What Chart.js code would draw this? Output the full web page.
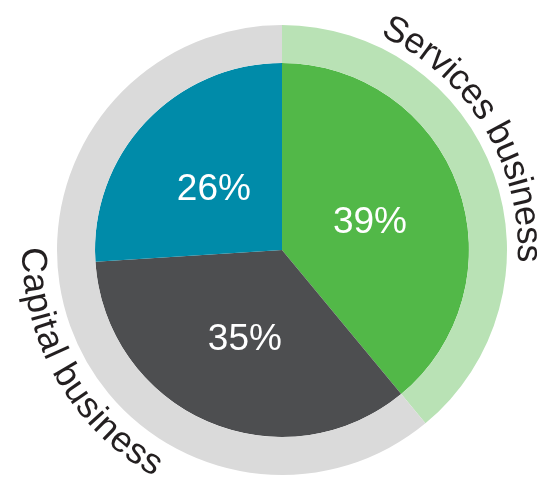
<!DOCTYPE html>
<html lang="en">
<head>
<meta charset="UTF-8" />
<title>Services vs capital business</title>
<script src="https://cdn.jsdelivr.net/npm/chart.js"></script>
<style>
  body { margin: 0; background: #fff; }
  #wrap { width: 537px; height: 478px; }
</style>
</head>
<body>
<div id="wrap"><canvas id="mix-chart"></canvas></div>
<script>
// outer ring: business groups
const ringLabels = ["Services business", "Capital business"];
const ringValues = [39, 61];
const ringColors = ["#b9e2b5", "#dadada"];

// inner pie: segments (%)
const pieLabels = ["Services", "Capital A", "Capital B"];
const pieValues = [39, 35, 26];
const pieColors = ["#52b848", "#4d4e50", "#008ba9"];

const FONT = "'Liberation Sans', Arial, sans-serif";

// percentages inside the slices
const sliceLabels = {
  id: "sliceLabels",
  afterDatasetsDraw(chart) {
    const ctx = chart.ctx;
    const meta = chart.getDatasetMeta(1);
    ctx.save();
    ctx.fillStyle = "#fff";
    ctx.font = "37px " + FONT;
    ctx.textAlign = "center";
    ctx.textBaseline = "middle";
    meta.data.forEach((arc, i) => {
      const mid = (arc.startAngle + arc.endAngle) / 2;
      const r = arc.outerRadius * 0.5;
      ctx.fillText(pieValues[i] + "%", arc.x + r * Math.cos(mid), arc.y + r * Math.sin(mid) + 4);
    });
    ctx.restore();
  },
};

// group names written along the ring
// angles in degrees, clockwise from 12 o'clock
const arcPlacement = [
  { radius: 236, from: 24.5, to: 93, outward: true },
  { radius: 260, from: 270.5, to: 209.5, outward: false },
];

function drawArcText(ctx, text, cx, cy, p) {
  const widths = [...text].map((ch) => ctx.measureText(ch).width);
  const total = widths.reduce((a, b) => a + b, 0);
  const span = Math.abs(p.to - p.from) * Math.PI / 180 * p.radius;
  const gap = (span - total) / (widths.length - 1);
  const dir = p.outward ? 1 : -1;
  let s = 0;
  [...text].forEach((ch, i) => {
    const pos = s + widths[i] / 2;
    const th = p.from * Math.PI / 180 + dir * pos / p.radius;
    ctx.save();
    ctx.translate(cx + p.radius * Math.sin(th), cy - p.radius * Math.cos(th));
    ctx.rotate(p.outward ? th : th - Math.PI);
    ctx.fillText(ch, 0, 0);
    ctx.restore();
    s += widths[i] + gap;
  });
}

const ringText = {
  id: "ringText",
  afterDatasetsDraw(chart) {
    const ctx = chart.ctx;
    const arc = chart.getDatasetMeta(0).data[0];
    ctx.save();
    ctx.fillStyle = "#231f20";
    ctx.font = "36px " + FONT;
    ctx.textAlign = "center";
    ctx.textBaseline = "alphabetic";
    ringLabels.forEach((label, i) => {
      drawArcText(ctx, label, arc.x, arc.y, arcPlacement[i]);
    });
    ctx.restore();
  },
};

document.addEventListener("DOMContentLoaded", () => {
  const ctx = document.getElementById("mix-chart").getContext("2d");
  new Chart(ctx, {
    type: "pie",
    data: {
      labels: pieLabels,
      datasets: [
        {
          label: "Group",
          data: ringValues,
          backgroundColor: ringColors,
          weight: 38,
        },
        {
          label: "Segment",
          data: pieValues,
          backgroundColor: pieColors,
          weight: 187,
        },
      ],
    },
    options: {
      responsive: true,
      maintainAspectRatio: false,
      animation: false,
      borderWidth: 0,
      hoverOffset: 0,
      offset: 0,
      layout: { padding: { left: 57, right: 30, top: 25, bottom: 3 } },
      plugins: {
        legend: { display: false },
        tooltip: { enabled: false },
      },
    },
    plugins: [sliceLabels, ringText],
  });
});
</script>
</body>
</html>
